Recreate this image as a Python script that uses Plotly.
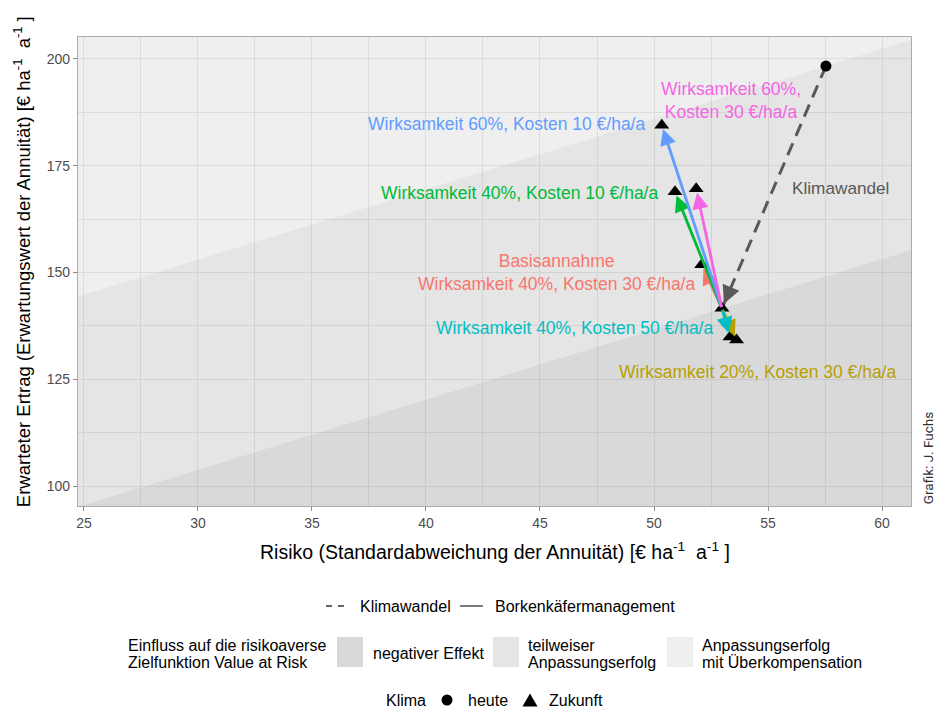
import plotly.graph_objects as go

# Klimawandel: Ausgangslage heute -> Zukunft ohne Borkenkäfermanagement
heute_risiko, heute_ertrag = 57.54, 198.35
zukunft_risiko, zukunft_ertrag = 52.98, 141.6

# Borkenkäfermanagement-Szenarien (Klima Zukunft)
szenario = ["Basisannahme", "W20K30", "W40K10", "W40K50", "W60K10", "W60K30"]
risiko = [52.09, 53.62, 50.92, 53.33, 50.34, 51.85]
ertrag = [151.8, 134.2, 168.9, 134.9, 184.5, 169.6]
farbe = ["#F8766D", "#B79F00", "#00BA38", "#00BFC4", "#619CFF", "#F564E3"]
beschriftung = [
    "Basisannahme<br>Wirksamkeit 40%, Kosten 30 €/ha/a",
    "Wirksamkeit 20%, Kosten 30 €/ha/a",
    "Wirksamkeit 40%, Kosten 10 €/ha/a",
    "Wirksamkeit 40%, Kosten 50 €/ha/a",
    "Wirksamkeit 60%, Kosten 10 €/ha/a",
    "Wirksamkeit 60%,<br>Kosten 30 €/ha/a",
]
label_x = [45.72, 54.56, 44.12, 46.53, 43.53, 53.38]
label_y = [150.0, 126.7, 168.6, 137.0, 184.8, 190.3]
klimawandel_label = (58.2, 169.8)

x_ticks = [25, 30, 35, 40, 45, 50, 55, 60]
y_ticks = [100, 125, 150, 175, 200]
x_range = [24.74, 61.27]
y_range = [95.32, 205.15]

# Value-at-Risk-Geraden (95 %): Ertrag = VaR + z * Risiko
z_var = 1.645
var_heute = heute_ertrag - z_var * heute_risiko
var_zukunft = zukunft_ertrag - z_var * zukunft_risiko

FONT = "Liberation Sans, Arial, sans-serif"
C_TOP, C_MID, C_LOW = "#efefef", "#e5e5e5", "#d9d9d9"

fig = go.Figure()

# Hintergrundbereiche zwischen den VaR-Geraden
xa, xb = 15.0, 70.0
ya_h, yb_h = var_heute + z_var * xa, var_heute + z_var * xb
ya_z, yb_z = var_zukunft + z_var * xa, var_zukunft + z_var * xb
flaechen = [
    ([xa, xb, xb, xa], [ya_h, yb_h, 260, 260], "rgba(0,0,0,0.063)"),
    ([xa, xb, xb, xa], [ya_z, yb_z, yb_h, ya_h], "rgba(0,0,0,0.102)"),
    ([xa, xb, xb, xa], [ya_z, yb_z, 40, 40], "rgba(0,0,0,0.148)"),
]
for fx, fy, fc in flaechen:
    fig.add_trace(go.Scatter(x=fx, y=fy, fill="toself", fillcolor=fc, mode="lines",
                             line=dict(width=0), hoverinfo="skip", showlegend=False))

# Klimawandel als gestrichelte Linie
fig.add_trace(go.Scatter(x=[heute_risiko, zukunft_risiko], y=[heute_ertrag, zukunft_ertrag],
                         mode="lines", line=dict(color="#595959", width=3, dash="13px,8px"),
                         hoverinfo="skip", showlegend=False))

# Punkte Klima Zukunft (Dreiecke) und heute (Kreis)
fig.add_trace(go.Scatter(x=[zukunft_risiko] + risiko, y=[zukunft_ertrag] + ertrag, mode="markers",
                         marker=dict(symbol="triangle-up", size=13, color="black"),
                         hoverinfo="skip", showlegend=False))
fig.add_trace(go.Scatter(x=[heute_risiko], y=[heute_ertrag], mode="markers",
                         marker=dict(symbol="circle", size=11, color="black"),
                         hoverinfo="skip", showlegend=False))

ann = []
# Pfeilspitze Klimawandel
t = 0.92
ann.append(dict(x=zukunft_risiko, y=zukunft_ertrag,
                ax=heute_risiko + t * (zukunft_risiko - heute_risiko),
                ay=heute_ertrag + t * (zukunft_ertrag - heute_ertrag),
                xref="x", yref="y", axref="x", ayref="y", text="", showarrow=True,
                arrowhead=2, arrowsize=1.2, arrowwidth=3, arrowcolor="#595959", standoff=5))
# Pfeile Borkenkäfermanagement
for rx, ey, c in zip(risiko, ertrag, farbe):
    ann.append(dict(x=rx, y=ey, ax=zukunft_risiko, ay=zukunft_ertrag,
                    xref="x", yref="y", axref="x", ayref="y", text="", showarrow=True,
                    arrowhead=2, arrowsize=1.15, arrowwidth=2.8, arrowcolor=c, standoff=4))
# Beschriftungen
for txt, lx, ly, c in zip(beschriftung, label_x, label_y, farbe):
    ann.append(dict(x=lx, y=ly, xref="x", yref="y", text=txt, showarrow=False,
                    xanchor="center", yanchor="middle", align="center",
                    font=dict(family=FONT, size=17.5, color=c)))
ann.append(dict(x=klimawandel_label[0], y=klimawandel_label[1], xref="x", yref="y",
                xanchor="center", yanchor="middle",
                text="Klimawandel", showarrow=False, font=dict(family=FONT, size=17.2, color="#595959")))

# Achsentitel
ann.append(dict(x=0.5, y=-0.096, xref="paper", yref="paper", showarrow=False,
                xanchor="center", yanchor="middle",
                text="Risiko (Standardabweichung der Annuität) [€ ha<sup>-1</sup>  a<sup>-1</sup> ]",
                font=dict(family=FONT, size=19.5, color="black")))
ann.append(dict(x=-0.0672, y=0.52, xref="paper", yref="paper", showarrow=False, textangle=-90,
                xanchor="center", yanchor="middle",
                text="Erwarteter Ertrag (Erwartungswert der Annuität) [€ ha<sup>-1</sup>  a<sup>-1</sup> ]",
                font=dict(family=FONT, size=18.5, color="black")))
ann.append(dict(x=1.0204, y=0.102, xref="paper", yref="paper", showarrow=False, textangle=-90,
                xanchor="center", yanchor="middle",
                text="Grafik: J. Fuchs", font=dict(family="Roboto, sans-serif", size=13.5, color="#333333")))

# Legende
W, H = 833.0, 469.0
L, T = 78.0, 37.0
def px(x):
    return (x - L) / W
def py(y):
    return (T + H - y) / H

LF = dict(family=FONT, size=16, color="black")
def legtext(x, y, txt):
    ann.append(dict(x=px(x), y=py(y), xref="paper", yref="paper", text=txt, showarrow=False,
                    xanchor="left", yanchor="middle", font=LF))

shapes = []
shapes.append(dict(type="line", xref="paper", yref="paper", x0=px(326), x1=px(347), y0=py(606), y1=py(606),
                   line=dict(color="#333333", width=1.3, dash="6px,6px")))
legtext(358, 606, "Klimawandel")
shapes.append(dict(type="line", xref="paper", yref="paper", x0=px(460), x1=px(483), y0=py(606), y1=py(606),
                   line=dict(color="#333333", width=1.3)))
legtext(493, 606, "Borkenkäfermanagement")

legtext(126, 645, "Einfluss auf die risikoaverse")
legtext(126, 662, "Zielfunktion Value at Risk")
for x0, col in [(337, C_LOW), (493, C_MID), (667, C_TOP)]:
    shapes.append(dict(type="rect", xref="paper", yref="paper", x0=px(x0), x1=px(x0 + 26),
                       y0=py(667), y1=py(637), fillcolor=col, line=dict(width=0)))
legtext(371, 653, "negativer Effekt")
legtext(526, 645, "teilweiser")
legtext(526, 662, "Anpassungserfolg")
legtext(700, 645, "Anpassungserfolg")
legtext(700, 662, "mit Überkompensation")

# Symbol-Legende Klima
legtext(384, 700, "Klima")
shapes.append(dict(type="circle", xref="paper", yref="paper", x0=px(441.5), x1=px(452.5),
                   y0=py(705.5), y1=py(694.5), fillcolor="black", line=dict(width=0)))
legtext(466, 700, "heute")
tri = [(522.5, 706.5), (537.5, 706.5), (530, 693.5)]
path = "M " + " L ".join(f"{px(a):.5f},{py(b):.5f}" for a, b in tri) + " Z"
shapes.append(dict(type="path", xref="paper", yref="paper", path=path,
                   fillcolor="black", line=dict(width=0)))
legtext(547, 700, "Zukunft")

axis_common = dict(showgrid=True, gridcolor="#ebebeb", gridwidth=1, zeroline=False,
                   showline=True, mirror=True, linecolor="#ababab", linewidth=1.3,
                   ticks="outside", ticklen=4, tickcolor="#8a8a8a", tickwidth=1,
                   tickfont=dict(family=FONT, size=14, color="#4d4d4d"))

fig.update_layout(
    width=947, height=709,
    margin=dict(l=78, r=36, t=37, b=203),
    paper_bgcolor="white", plot_bgcolor="white",
    showlegend=False,
    annotations=ann, shapes=shapes,
    xaxis=dict(range=x_range, tickvals=x_ticks, ticktext=[str(v) for v in x_ticks],
               minor=dict(tickvals=[v + 2.5 for v in [22.5] + x_ticks], showgrid=True,
                          gridcolor="#ebebeb", gridwidth=0.6, ticks=""),
               **axis_common),
    yaxis=dict(range=y_range, tickvals=y_ticks, ticktext=[str(v) for v in y_ticks],
               minor=dict(tickvals=[v + 12.5 for v in y_ticks], showgrid=True,
                          gridcolor="#ebebeb", gridwidth=0.6, ticks=""),
               **axis_common),
)

fig.write_html("out.html")
